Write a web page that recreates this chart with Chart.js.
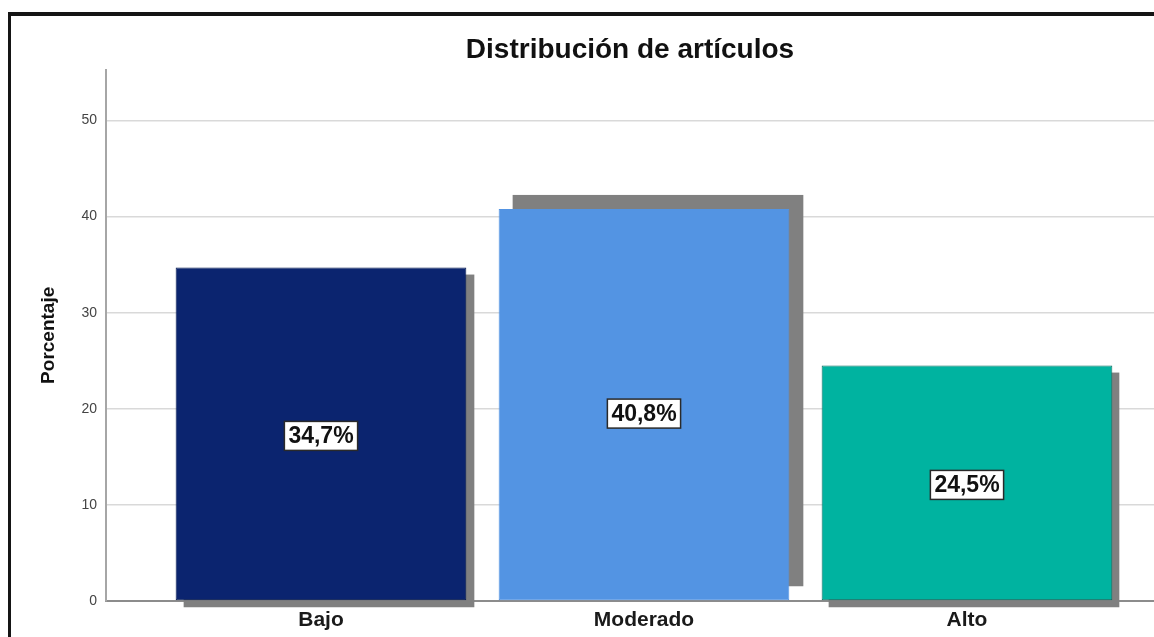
<!DOCTYPE html>
<html>
<head>
<meta charset="utf-8">
<title>Distribución de artículos</title>
<script src="https://cdn.jsdelivr.net/npm/chart.js@4.4.0/dist/chart.umd.min.js"></script>
<style>
  html, body { margin: 0; padding: 0; background: #fff; overflow: hidden; }
  canvas { display: block; }
</style>
</head>
<body>
<canvas id="articulosChart" width="1154" height="637"></canvas>
<script>
const categories = ['Bajo', 'Moderado', 'Alto'];
const percentages = [34.7, 40.8, 24.5];
const yTicks = [0, 10, 20, 30, 40, 50];

// styles
const barColors = ['#0b246f', '#5394e3', '#00b3a0'];
const barBorders = ['#061a52', '#5394e3', '#0b6b60'];
const shadowOffsets = [[8, 7], [14, -14], [7, 7]];
const labelNudge = [2, 9, 2];
const fontFamily = '"Liberation Sans", Arial, sans-serif';

const formatPct = (v) => v.toFixed(1).replace('.', ',') + '%';

// white background + the black frame on top/left
const framePlugin = {
  id: 'frame',
  beforeDraw(chart) {
    const ctx = chart.ctx;
    ctx.save();
    ctx.fillStyle = '#fff';
    ctx.fillRect(0, 0, chart.width, chart.height);
    ctx.restore();
  },
  afterDraw(chart) {
    const ctx = chart.ctx;
    ctx.save();
    ctx.fillStyle = '#151515';
    ctx.fillRect(8, 12, chart.width - 8, 4);
    ctx.fillRect(8, 12, 3, chart.height - 12);
    ctx.restore();
  },
};

// grey drop shadows behind the bars
const shadowPlugin = {
  id: 'barShadows',
  beforeDatasetsDraw(chart) {
    const ctx = chart.ctx;
    const meta = chart.getDatasetMeta(0);
    ctx.save();
    ctx.fillStyle = '#808080';
    meta.data.forEach((bar, i) => {
      const { x, y, base, width } = bar.getProps(['x', 'y', 'base', 'width'], true);
      const [dx, dy] = shadowOffsets[i];
      ctx.fillRect(x - width / 2 + dx, y + dy, width, base - y);
    });
    ctx.restore();
  },
};

// boxed percentage labels in the middle of each bar
const valueLabelPlugin = {
  id: 'valueLabels',
  afterDatasetsDraw(chart) {
    const ctx = chart.ctx;
    const meta = chart.getDatasetMeta(0);
    ctx.save();
    ctx.font = 'bold 23px ' + fontFamily;
    ctx.textAlign = 'center';
    ctx.textBaseline = 'middle';
    meta.data.forEach((bar, i) => {
      const { x, y, base } = bar.getProps(['x', 'y', 'base'], true);
      const cy = (y + base) / 2 + labelNudge[i];
      const text = formatPct(percentages[i]);
      const w = ctx.measureText(text).width + 8;
      const h = 29;
      ctx.fillStyle = '#fff';
      ctx.fillRect(x - w / 2, cy - h / 2, w, h);
      ctx.strokeStyle = '#2a2a2a';
      ctx.lineWidth = 1.5;
      ctx.strokeRect(x - w / 2, cy - h / 2, w, h);
      ctx.fillStyle = '#111';
      ctx.fillText(text, x, cy + 1);
    });
    ctx.restore();
  },
};

function initChart() {
  const ctx = document.getElementById('articulosChart').getContext('2d');

  new Chart(ctx, {
    type: 'bar',
    data: {
      datasets: [
        {
          label: 'Porcentaje',
          data: percentages.map((v, i) => ({ x: i, y: v })),
          backgroundColor: barColors,
          borderColor: barBorders,
          borderWidth: 1,
          borderSkipped: false,
          barPercentage: 0.9,
          categoryPercentage: 1,
        },
      ],
    },
    options: {
      responsive: false,
      animation: false,
      layout: { padding: 0 },
      plugins: {
        legend: { display: false },
        tooltip: { enabled: false },
        title: {
          display: true,
          text: 'Distribución de artículos',
          fullSize: false,
          color: '#111',
          font: { family: fontFamily, size: 28, weight: 'bold' },
          padding: { top: 33, bottom: 3 },
        },
      },
      scales: {
        x: {
          type: 'linear',
          offset: false,
          min: -0.6656,
          max: 2.579,
          afterBuildTicks: (scale) => {
            scale.ticks = categories.map((c, i) => ({ value: i }));
          },
          afterFit: (scale) => {
            scale.height = 36;
          },
          grid: { display: false, drawTicks: false },
          border: { color: '#8c8c8c', width: 2 },
          ticks: {
            padding: 7,
            color: '#1a1a1a',
            font: { family: fontFamily, size: 21, weight: 'bold' },
            callback: (value) => categories[value] ?? '',
          },
        },
        y: {
          min: 0,
          max: 55.3,
          afterBuildTicks: (scale) => {
            scale.ticks = yTicks.map((v) => ({ value: v }));
          },
          afterFit: (scale) => {
            scale.width = 106;
          },
          grid: {
            drawTicks: false,
            lineWidth: 1.5,
            color: (c) => (c.tick && c.tick.value === 0 ? 'rgba(0,0,0,0)' : '#d9d9d9'),
          },
          border: { color: '#a6a6a6', width: 2 },
          ticks: {
            padding: 9,
            color: '#444',
            font: { family: fontFamily, size: 14 },
          },
          title: {
            display: true,
            text: 'Porcentaje',
            color: '#111',
            font: { family: fontFamily, size: 19, weight: 'bold' },
            padding: { top: 37, bottom: 0 },
          },
        },
      },
    },
    plugins: [framePlugin, shadowPlugin, valueLabelPlugin],
  });
}

document.addEventListener('DOMContentLoaded', () => {
  initChart();
});
</script>
</body>
</html>
